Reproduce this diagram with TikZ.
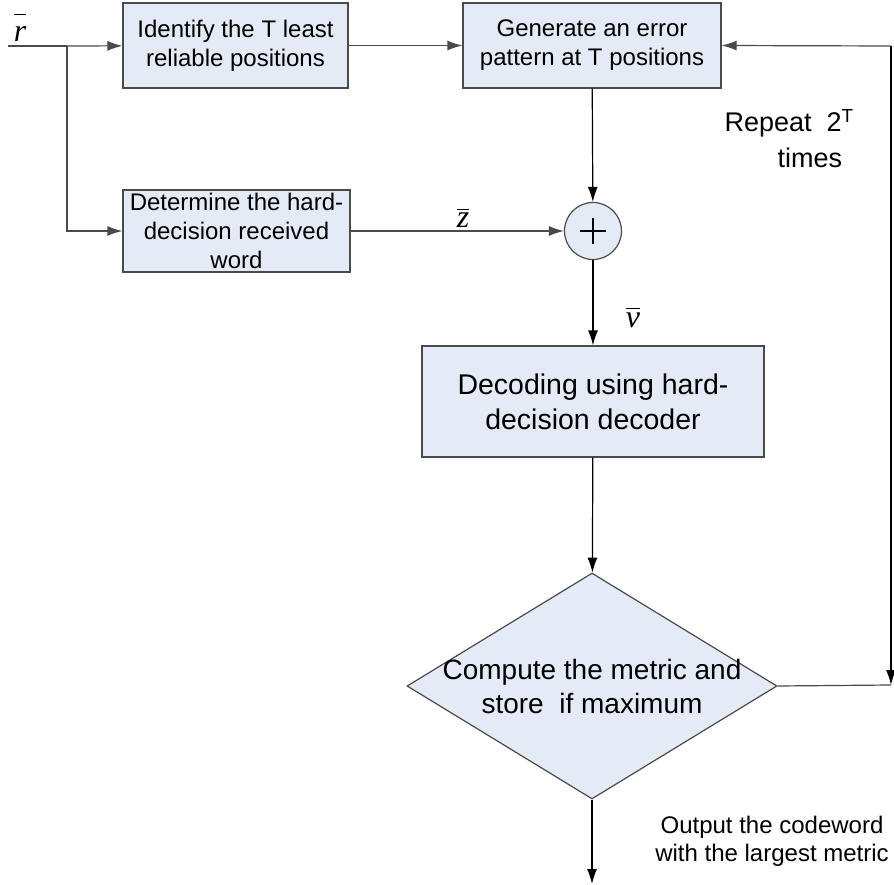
\documentclass[tikz,border=0pt]{standalone}
\usepackage{fontspec}
\setmainfont{Liberation Sans}
\newfontfamily\lblfont{Liberation Serif}
\usetikzlibrary{shapes.geometric,arrows.meta}
\definecolor{boxfill}{HTML}{E5EBF6}
\definecolor{wire}{HTML}{4A4A4A}
\begin{document}
\begin{tikzpicture}[x=1pt,y=-1pt,line width=1.2pt,
    >={Latex[length=15pt,width=10pt]},
    block/.style={draw=wire,fill=boxfill,align=center,inner sep=0pt},
    small/.style={font=\fontsize{24}{29}\selectfont},
    large/.style={font=\fontsize{28.5}{35}\selectfont},
    sym/.style={anchor=base,inner sep=0pt,font=\fontsize{32}{38}\lblfont\itshape}]
        % Frame
        \useasboundingbox (0,0) rectangle (894,885);

        % Blocks
        \node[block,small,minimum width=225pt,minimum height=85pt] (ident) at (235.5,45.5) {Identify the T least\\reliable positions};
        \node[block,small,minimum width=227pt,minimum height=82pt] (hard) at (236.5,231) {Determine the hard-\\decision received\\word};
        \node[block,small,minimum width=258pt,minimum height=85pt] (gen) at (592,45.5) {Generate an error\\pattern at T positions};
        \node[block,circle,minimum size=57pt] (sum) at (593,231) {};
        \draw[line width=1.3pt] ([xshift=-13pt]sum.center) -- ([xshift=13pt]sum.center)
            ([yshift=-13pt]sum.center) -- ([yshift=13pt]sum.center);
        \node[block,large,minimum width=342pt,minimum height=111pt] (dec) at (593,401.5) {Decoding using hard-\\decision decoder};
        \node[block,diamond,minimum width=370pt,minimum height=226pt] (cmp) at (592,686) {};
        \node[font=\fontsize{28}{34}\selectfont,align=center] (cmptext) at (cmp.center) {Compute the metric and\\store\ \ if maximum};

        % Coordinates
        \coordinate (in) at (8,46);
        \coordinate (br) at (67,46);
        \coordinate (fbtop) at (891,46);
        \coordinate (fbbot) at (891,685);
        \coordinate (out) at (592,884);

        % Connectors
        \draw[wire] (in) -- (br);
        \draw[wire,->] (br) -- (ident);
        \draw[wire,->] (br) |- (hard);
        \draw[wire,->] (ident) -- (gen);
        \draw[wire,->] (hard) -- (sum);
        \draw[->] (gen) -- (sum);
        \draw[->] (sum) -- (dec);
        \draw[->] (dec) -- (cmp);
        \draw[->] (cmp.south) -- (out);
        \draw[wire] (cmp.east) -- (fbbot);
        \draw[->] (fbtop) -- (fbbot);
        \draw[wire,->] (fbtop) -- (gen.east);

        % Labels
        \node[sym] (rlab) at (20,42) {$\overline{\strut\hbox{r}}$};
        \node[sym] (zlab) at (463,228) {$\overline{\vphantom{T}\hbox{z}}$};
        \node[sym] (vlab) at (633,327) {$\overline{\vphantom{T}\hbox{v}}$};
        \node[anchor=west,font=\fontsize{27}{32}\selectfont,inner sep=0pt] (rep) at (724,123) {Repeat\ \ 2\textsuperscript{T}};
        \node[anchor=west,font=\fontsize{27}{32}\selectfont,inner sep=0pt] (times) at (777,158) {times};
        \node[align=center,font=\fontsize{24}{28}\selectfont] (outlab) at (772,841) {Output the codeword\\with the largest metric};
      \end{tikzpicture}
\end{document}
